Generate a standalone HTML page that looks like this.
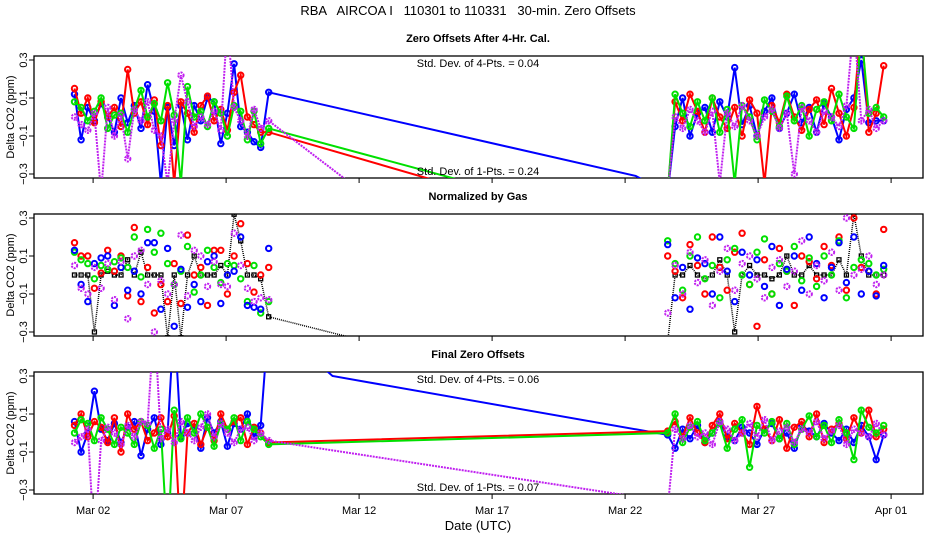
<!DOCTYPE html>
<html><head><meta charset="utf-8"><style>
body{margin:0;background:#fff;}
svg{display:block;font-family:"Liberation Sans",sans-serif;}
</style></head><body>
<svg id="chart" width="936" height="540" viewBox="0 0 936 540">
<defs>
<clipPath id="c0"><rect x="34" y="56" width="889" height="122"/></clipPath>
<clipPath id="c1"><rect x="34" y="214" width="889" height="122"/></clipPath>
<clipPath id="c2"><rect x="34" y="372" width="889" height="122"/></clipPath>
</defs>
<text x="468" y="15" font-size="13" text-anchor="middle" style="white-space:pre">RBA   AIRCOA I   110301 to 110331   30-min. Zero Offsets</text>
</svg>
<script>
// x categories (day of March)
const times1 = [1.3,1.55,1.8,2.05,2.3,2.55,2.8,3.05,3.3,3.55,3.8,4.05,4.3,4.55,4.8,5.05,5.3,5.55,5.8,6.05,6.3,6.55,6.8,7.05,7.3,7.55,7.8,8.05,8.3,8.6];
const times2 = [23.6,23.88,24.16,24.44,24.72,25.0,25.28,25.56,25.84,26.12,26.4,26.68,26.96,27.24,27.52,27.8,28.08,28.36,28.64,28.92,29.2,29.48,29.76,30.04,30.32,30.6,30.88,31.16,31.44,31.72];
const xTickDays = [2,7,12,17,22,27,32];
const xTickLabels = ["Mar 02","Mar 07","Mar 12","Mar 17","Mar 22","Mar 27","Apr 01"];
const yTicks = [0.3,0.1,-0.1,-0.3];
const yTickLabels = ["0.3","0.1","\u22120.1","\u22120.3"];
const panelTitles = ["Zero Offsets After 4-Hr. Cal.","Normalized by Gas","Final Zero Offsets"];

// Panel 1
const p1Red1 = [0.15,0.02,0.10,-0.03,0.08,0.0,0.05,-0.05,0.25,0.02,0.08,-0.04,0.09,-0.15,0.06,-0.35,0.08,0.02,-0.08,0.06,0.11,-0.02,0.04,-0.07,0.13,0.22,0.0,-0.04,-0.08,-0.08];
const p1Red2 = [-0.4,0.08,-0.02,0.12,0.03,-0.08,0.1,0.0,-0.06,0.05,-0.1,0.09,0.02,-0.35,0.06,-0.03,0.12,0.0,-0.07,0.04,0.09,-0.04,0.15,0.02,-0.1,0.05,0.5,-0.08,0.02,0.27];
const p1RedGap = [15,-0.34];
const p1Green1 = [0.08,0.05,-0.02,0.03,0.1,-0.06,0.01,0.02,-0.08,0.04,0.14,0.0,0.07,-0.02,0.18,0.01,-0.35,0.16,0.0,0.03,-0.05,0.08,0.02,-0.1,0.06,0.03,-0.12,0.03,-0.14,-0.06];
const p1Green2 = [-0.4,0.12,0.02,-0.05,0.08,-0.02,0.1,-0.08,0.04,-0.35,0.06,0.0,-0.12,0.09,0.03,-0.05,0.11,-0.02,0.06,-0.1,0.04,0.08,-0.02,0.12,0.0,-0.06,0.45,0.02,0.05,0.0];
const p1GreenGap = [16,-0.34];
const p1Blue1 = [0.12,-0.12,0.05,-0.02,0.07,0.0,-0.08,0.1,-0.03,0.06,-0.06,0.17,0.03,-0.35,0.05,-0.15,0.06,-0.12,0.06,-0.02,0.1,0.08,-0.14,0.02,0.28,-0.05,-0.08,-0.13,-0.16,0.13];
const p1Blue2 = [-0.4,-0.05,0.1,-0.1,0.02,0.05,-0.08,0.08,0.0,0.26,-0.04,0.06,-0.1,0.03,0.1,-0.06,0.02,0.12,-0.03,0.05,-0.08,0.07,0.0,-0.12,0.04,0.1,0.3,-0.03,-0.02,-0.02];
const p1BlueGap = [22.4,-0.31];
const p1Purple1 = [0.0,-0.04,-0.07,0.02,-0.4,0.05,-0.1,0.01,-0.22,0.04,-0.02,0.08,-0.07,-0.1,-0.35,-0.02,0.22,0.08,-0.05,0.0,-0.04,0.03,-0.07,0.5,0.05,-0.02,-0.1,0.04,-0.06,-0.02];
const p1Purple2 = [-0.4,0.0,-0.06,0.04,-0.02,-0.08,0.03,-0.35,0.02,-0.05,0.06,-0.02,-0.1,0.0,0.04,-0.06,0.02,-0.3,0.05,-0.02,-0.08,0.03,0.0,-0.05,0.06,0.5,-0.02,0.04,-0.06,-0.02];
const p1PurpleGap = [11.6,-0.34];

// Panel 2
const p2Red1 = [0.17,0.1,0.1,-0.07,0.01,0.13,0.02,0.1,-0.11,0.25,-0.14,0.04,-0.2,-0.05,-0.14,0.06,-0.15,0.21,0.0,0.04,-0.16,0.13,0.13,-0.1,0.1,0.27,0.06,-0.09,0.0,0.04];
const p2Red2 = [0.1,0.02,-0.12,0.16,0.05,-0.1,0.2,0.04,-0.08,0.12,0.22,-0.05,-0.27,0.08,-0.1,0.14,0.02,-0.16,0.1,0.07,-0.02,0.15,0.05,0.2,-0.08,0.3,0.04,0.02,-0.1,0.24];
const p2Green1 = [0.12,0.08,0.06,-0.02,0.05,0.03,0.07,0.09,0.04,0.2,-0.01,0.24,0.12,0.22,0.06,-0.05,0.02,0.15,-0.09,0.0,0.13,0.04,-0.04,0.06,0.05,-0.02,-0.14,0.05,-0.2,-0.14];
const p2Green2 = [0.18,0.06,-0.08,0.1,0.2,-0.02,0.05,-0.12,0.08,0.14,0.0,-0.05,0.12,0.19,-0.1,0.06,0.02,0.15,-0.03,0.09,-0.06,0.1,0.0,0.18,-0.12,0.04,0.08,0.06,0.0,0.03];
const p2Blue1 = [0.13,-0.05,-0.14,0.06,0.09,0.1,-0.16,0.04,-0.08,0.02,-0.1,0.17,0.17,-0.18,0.14,-0.27,0.03,-0.17,-0.05,-0.14,0.07,0.1,-0.15,0.0,0.02,0.2,-0.16,-0.17,-0.18,0.14];
const p2Blue2 = [0.16,-0.12,0.04,-0.18,0.09,0.06,-0.1,0.2,0.02,-0.14,0.12,0.0,0.08,-0.06,0.15,-0.16,0.03,0.1,-0.08,0.2,0.06,-0.12,0.04,0.17,-0.04,0.2,-0.1,0.02,-0.11,0.05];
const p2Purple1 = [0.05,-0.07,-0.1,0.04,-0.07,0.06,-0.13,0.07,-0.23,0.1,0.13,-0.05,-0.3,-0.03,-0.1,-0.05,0.21,-0.11,0.13,0.1,-0.06,0.07,-0.05,-0.06,0.22,0.05,-0.07,-0.14,-0.12,-0.13];
const p2Purple2 = [-0.2,0.05,-0.1,0.12,-0.04,0.08,-0.16,0.02,0.14,-0.08,0.06,0.1,-0.02,-0.12,0.04,0.08,-0.06,0.02,0.18,-0.1,0.05,-0.03,0.12,-0.08,0.3,0.0,0.03,0.1,-0.05,0.0];
const p2Black1 = [0,0,0,-0.3,0,0.02,0,0,0.08,0,0.12,0,0,0,-0.33,0,-0.33,0,0.1,0,0,0,0.05,0,0.32,0.18,0,0,-0.02,-0.22];
const p2Black2 = [-0.35,0,0,0.05,0,-0.02,0,0.08,0,-0.3,0,0.05,0,0,-0.02,0,0.1,0,0,0.05,0,0,0,0.08,0,0.32,0.1,0,0,0];
const p2BlackGap = [12,-0.34];

// Panel 3
const p3Red1 = [0.04,0.1,-0.02,0.06,0.03,-0.05,0.08,-0.1,0.1,0.02,0.06,-0.04,0.0,0.08,-0.02,0.09,-0.6,0.0,0.05,-0.06,0.03,-0.04,0.1,0.02,0.06,0.08,-0.06,0.03,0.0,-0.05];
const p3Red2 = [0.01,0.06,-0.02,0.08,0.0,-0.05,0.04,0.1,-0.03,0.05,0.0,-0.06,0.14,0.02,-0.04,0.07,-0.08,0.03,0.06,-0.02,0.1,-0.05,0.02,0.05,-0.03,0.08,0.0,0.12,-0.02,0.02];
const p3Green1 = [0.0,0.07,0.05,-0.04,0.08,0.02,-0.06,0.03,0.0,-0.06,0.06,0.04,-0.08,0.02,-0.6,0.12,-0.03,0.08,0.0,0.1,0.03,-0.07,0.05,0.02,0.08,-0.04,0.06,0.02,-0.02,-0.06];
const p3Green2 = [0.0,0.1,-0.05,0.03,0.06,-0.04,0.0,0.05,-0.08,0.02,0.07,-0.18,0.04,0.0,0.06,-0.03,0.05,-0.06,0.02,0.09,-0.02,0.04,-0.05,0.07,0.0,-0.14,0.12,0.03,0.0,0.04];
const p3Blue1 = [0.06,-0.1,0.0,0.22,0.02,-0.04,0.05,-0.05,0.03,0.06,-0.12,0.02,0.08,-0.06,0.0,0.6,-0.02,0.05,0.03,-0.08,0.08,0.0,0.06,-0.07,0.05,0.02,0.1,-0.02,0.04,0.6];
const p3Blue2 = [-0.01,-0.08,0.02,-0.03,0.04,-0.05,0.0,0.06,-0.02,-0.04,0.03,0.0,-0.06,0.02,0.05,-0.03,0.0,-0.08,0.04,0.01,-0.02,0.05,0.0,-0.04,0.02,-0.05,0.04,-0.02,-0.14,-0.01];
const p3BlueGap = [11,0.3];
const p3Purple1 = [-0.05,-0.02,0.02,-0.6,-0.04,0.03,0.0,-0.06,0.04,-0.02,0.06,0.05,0.6,-0.03,0.02,-0.05,0.06,0.0,-0.04,0.03,0.1,-0.02,0.05,0.0,-0.05,0.02,0.03,-0.04,0.0,-0.04];
const p3Purple2 = [-0.4,0.02,-0.03,0.04,-0.02,0.0,-0.06,0.06,0.02,-0.04,0.0,0.05,-0.02,0.07,-0.04,0.01,0.03,-0.05,0.02,0.0,0.06,-0.03,0.01,0.04,-0.06,0.02,0.0,-0.02,0.05,-0.01];
const p3PurpleGap = [23.55,-0.36];

const stdTexts = [["Std. Dev. of 4-Pts. =  0.04","Std. Dev. of 1-Pts. =  0.24"],null,["Std. Dev. of 4-Pts. =  0.06","Std. Dev. of 1-Pts. =  0.07"]];

const NS = "http://www.w3.org/2000/svg";
const svg = document.getElementById('chart');
const L = 34, R = 923;
const panels = [{top:56,bottom:178},{top:214,bottom:336},{top:372,bottom:494}];
function xs(d){ return 66.5 + (d - 1) * 26.6; }
function ys(p, v){ const P = panels[p]; return (P.top + P.bottom) / 2 - v * (P.bottom - P.top - 8) / 0.6; }
function mk(tag, attrs, parent){ const e = document.createElementNS(NS, tag); for (const k in attrs) e.setAttribute(k, attrs[k]); (parent || svg).appendChild(e); return e; }

const COL = {red:"#ff0000", green:"#00e000", blue:"#0000ff", purple:"#c020f0", black:"#000000"};

function series(p, name, color, v1, v2, gap, lines, dash){
  const g = mk('g', {'clip-path':'url(#c' + p + ')'});
  
  
  const pts = [];
  times1.forEach((t, i) => pts.push([t, v1[i]]));
  if (gap) pts.push([gap[0], gap[1]]);
  times2.forEach((t, i) => pts.push([t, v2[i]]));
  if (lines) {
    const d = pts.map((q, i) => (i ? 'L' : 'M') + xs(q[0]).toFixed(1) + ',' + ys(p, q[1]).toFixed(1)).join(' ');
    const path = mk('path', {d: d, fill: 'none', stroke: color, 'stroke-width': 2, 'stroke-dasharray': dash || 'none'}, g);
    
    
  }
  const all = times1.map((t, i) => [t, v1[i]]).concat(times2.map((t, i) => [t, v2[i]]));
  all.forEach(q => {
    const c = mk('circle', {cx: xs(q[0]).toFixed(1), cy: ys(p, q[1]).toFixed(1), r: 2.7, fill: 'none', stroke: color, 'stroke-width': 2, 'stroke-dasharray': dash ? '2 1' : 'none'}, g);
    
    
  });
}
function blackSeries(p, v1, v2, gap){
  const g = mk('g', {'clip-path':'url(#c' + p + ')'});
  
  
  const pts = [];
  times1.forEach((t, i) => pts.push([t, v1[i]]));
  pts.push(gap);
  times2.forEach((t, i) => pts.push([t, v2[i]]));
  const d = pts.map((q, i) => (i ? 'L' : 'M') + xs(q[0]).toFixed(1) + ',' + ys(p, q[1]).toFixed(1)).join(' ');
  const path = mk('path', {d: d, fill: 'none', stroke: '#000', 'stroke-width': 1.5, 'stroke-dasharray': '1 1'}, g);
  
  
  times1.concat(times2).forEach((t, i) => {
    const v = i < times1.length ? v1[i] : v2[i - times1.length];
    const s = mk('rect', {x: xs(t) - 2, y: ys(p, v) - 2, width: 4, height: 4, fill: 'none', stroke: '#000', 'stroke-width': 1.3}, g);
    
    
  });
}

panels.forEach((P, p) => {
  const fr = mk('rect', {x: L, y: P.top, width: R - L, height: P.bottom - P.top, fill: 'none', stroke: '#000', 'stroke-width': 1.3});
  
  
  const tt = mk('text', {x: 478, y: P.top - 14, 'font-size': 11, 'font-weight': 'bold', 'text-anchor': 'middle'});
  tt.textContent = panelTitles[p];
  
  
  yTicks.forEach((v, i) => {
    const y = ys(p, v);
    mk('line', {x1: L - 5, x2: L, y1: y, y2: y, stroke: '#000'});
    const t = mk('text', {x: 0, y: 0, 'font-size': 11, 'text-anchor': 'middle', transform: 'translate(' + (L - 7) + ',' + y + ') rotate(-90)'});
    t.textContent = yTickLabels[i];
    
    
  });
  const yl = mk('text', {x: 0, y: 0, 'font-size': 11, 'text-anchor': 'middle', transform: 'translate(14,' + ((P.top + P.bottom) / 2) + ') rotate(-90)'});
  yl.textContent = 'Delta CO2 (ppm)';
  
  
  xTickDays.forEach((d, i) => {
    mk('line', {x1: xs(d), x2: xs(d), y1: P.bottom, y2: P.bottom + 5, stroke: '#000'});
    if (p === 2) {
      const t = mk('text', {x: xs(d), y: P.bottom + 20, 'font-size': 11, 'text-anchor': 'middle'});
      t.textContent = xTickLabels[i];
      
      
    }
  });
});

series(0, 'blue', COL.blue, p1Blue1, p1Blue2, p1BlueGap, true);
series(0, 'red', COL.red, p1Red1, p1Red2, p1RedGap, true);
series(0, 'green', COL.green, p1Green1, p1Green2, p1GreenGap, true);
series(0, 'purple', COL.purple, p1Purple1, p1Purple2, p1PurpleGap, true, '2 1');

blackSeries(1, p2Black1, p2Black2, p2BlackGap);
series(1, 'red', COL.red, p2Red1, p2Red2, null, false);
series(1, 'green', COL.green, p2Green1, p2Green2, null, false);
series(1, 'blue', COL.blue, p2Blue1, p2Blue2, null, false);
series(1, 'purple', COL.purple, p2Purple1, p2Purple2, null, false, '2 1');

series(2, 'blue', COL.blue, p3Blue1, p3Blue2, p3BlueGap, true);
series(2, 'red', COL.red, p3Red1, p3Red2, null, true);
series(2, 'green', COL.green, p3Green1, p3Green2, null, true);
series(2, 'purple', COL.purple, p3Purple1, p3Purple2, p3PurpleGap, true, '2 1');

[0, 2].forEach(p => {
  const P = panels[p];
  const a = mk('text', {x: 478, y: P.top + 11, 'font-size': 11, 'text-anchor': 'middle'});
  a.textContent = stdTexts[p][0];
  
  
  const b = mk('text', {x: 478, y: P.bottom - 3, 'font-size': 11, 'text-anchor': 'middle'});
  b.textContent = stdTexts[p][1];
  
  
});

const xt = mk('text', {x: 478, y: 530, 'font-size': 13, 'text-anchor': 'middle'});
xt.textContent = 'Date (UTC)';


</script>
</body></html>
